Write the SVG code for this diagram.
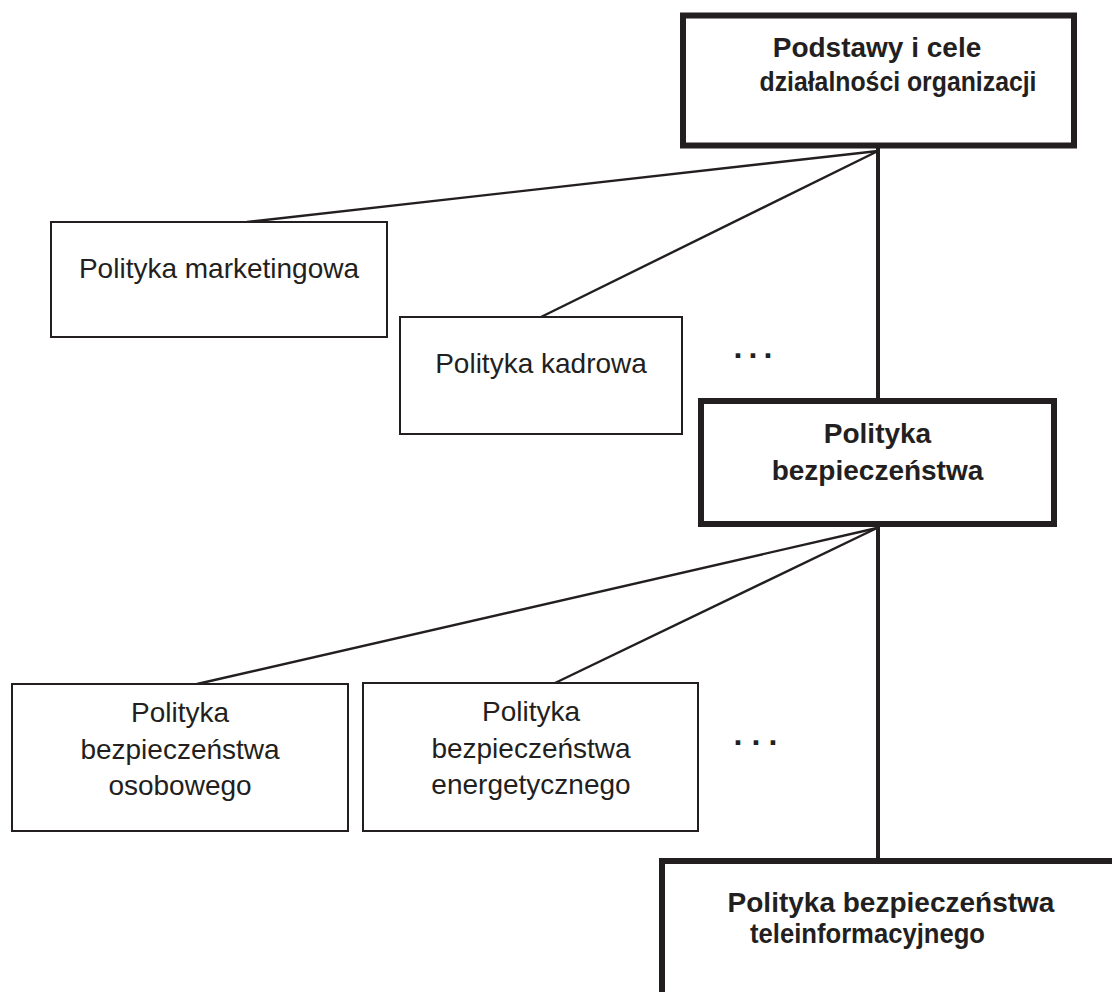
<svg xmlns="http://www.w3.org/2000/svg" width="1112" height="992" viewBox="0 0 1112 992">
  <style>
    .thick { fill: #ffffff; stroke: #231f20; stroke-width: 6; }
    .thin { fill: #ffffff; stroke: #231f20; stroke-width: 2; }
    .conn { stroke: #231f20; stroke-width: 2.4; fill: none; }
    .trunk { stroke: #231f20; stroke-width: 4; fill: none; }
    .b { font-family: "Liberation Sans", Arial, sans-serif; font-size: 28px; font-weight: bold; fill: #231f20; text-anchor: middle; }
    .r { font-family: "Liberation Sans", Arial, sans-serif; font-size: 28px; fill: #231f20; text-anchor: middle; }
    .dots { font-family: "Liberation Sans", Arial, sans-serif; font-size: 32px; font-weight: bold; fill: #231f20; }
  </style>
  <rect width="1112" height="992" fill="#ffffff"/>
  <g id="connectors">
    <line class="conn" x1="878" y1="151" x2="247" y2="222"/>
    <line class="conn" x1="878" y1="151" x2="541" y2="317"/>
    <line class="trunk" x1="878" y1="148" x2="878" y2="400"/>
    <line class="conn" x1="877" y1="528" x2="197" y2="684"/>
    <line class="conn" x1="877" y1="528" x2="555" y2="683"/>
    <line class="trunk" x1="878" y1="526" x2="878" y2="860"/>
  </g>
  <g id="node-podstawy">
    <rect class="thick" x="683" y="15.5" width="391" height="130"/>
    <text class="b" x="877" y="57">Podstawy i cele</text>
    <text class="b" x="898" y="91" textLength="277" lengthAdjust="spacingAndGlyphs">działalności organizacji</text>
  </g>
  <g id="node-marketing">
    <rect class="thin" x="51" y="222" width="336" height="115"/>
    <text class="r" x="219" y="278">Polityka marketingowa</text>
  </g>
  <g id="node-kadrowa">
    <rect class="thin" x="400" y="317" width="282" height="117"/>
    <text class="r" x="541" y="373">Polityka kadrowa</text>
  </g>
  <g id="dots-1">
    <text class="dots" x="733.5 748.5 763.5" y="357.5">...</text>
  </g>
  <g id="node-bezpieczenstwa">
    <rect class="thick" x="701" y="401" width="353" height="123"/>
    <text class="b" x="877.5" y="443">Polityka</text>
    <text class="b" x="877.5" y="480">bezpieczeństwa</text>
  </g>
  <g id="node-osobowego">
    <rect class="thin" x="12" y="684" width="336" height="147"/>
    <text class="r" x="180" y="722">Polityka</text>
    <text class="r" x="180" y="759">bezpieczeństwa</text>
    <text class="r" x="180" y="795">osobowego</text>
  </g>
  <g id="node-energetycznego">
    <rect class="thin" x="363" y="683" width="335" height="148"/>
    <text class="r" x="531" y="721">Polityka</text>
    <text class="r" x="531" y="758">bezpieczeństwa</text>
    <text class="r" x="531" y="794">energetycznego</text>
  </g>
  <g id="dots-2">
    <text class="dots" x="733.5 751.5 768.5" y="744.5">...</text>
  </g>
  <g id="node-teleinformacyjnego">
    <rect class="thick" x="662" y="861" width="470" height="150"/>
    <text class="b" x="891" y="912">Polityka bezpieczeństwa</text>
    <text class="b" x="867.5" y="943" textLength="235" lengthAdjust="spacingAndGlyphs">teleinformacyjnego</text>
  </g>
</svg>
